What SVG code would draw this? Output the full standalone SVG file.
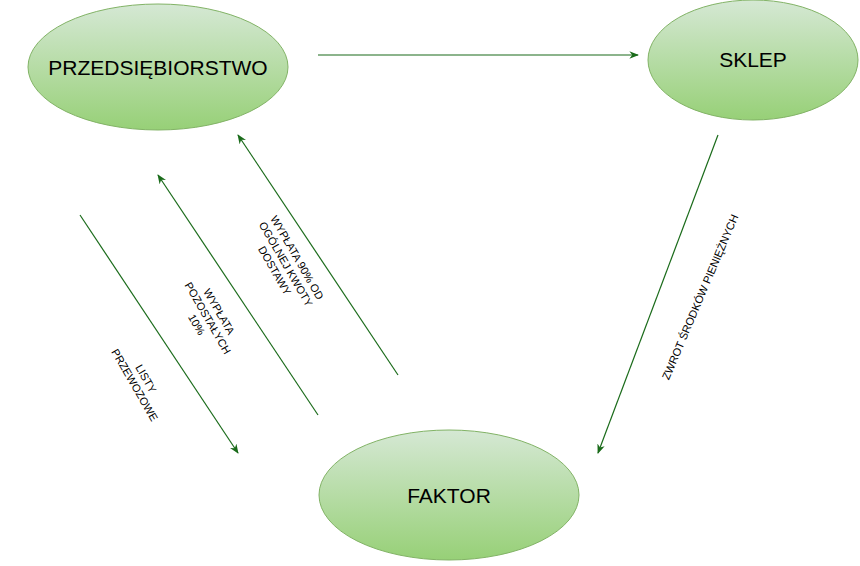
<svg xmlns="http://www.w3.org/2000/svg" width="860" height="566" viewBox="0 0 860 566">
<style>
.n{stroke:#82b366;stroke-width:1;fill:url(#g)}
.t{font-family:"Liberation Sans",Arial,sans-serif;fill:#000}
.big{font-size:21px}
.s{font-size:11px}
.c{stroke:#1a6b1a;stroke-width:1.2;fill:none;marker-end:url(#a)}
</style>
<defs>
<linearGradient id="g" x1="0" y1="0" x2="0" y2="1"><stop offset="0" stop-color="#d5e8d4"/><stop offset="1" stop-color="#97d077"/></linearGradient>
<marker id="a" viewBox="0 0 10 10" refX="9" refY="5" markerWidth="8" markerHeight="8" orient="auto"><path d="M0,1 L10,5 L0,9 L3,5 Z" fill="#1a6b1a"/></marker>
</defs>
<rect width="860" height="566" fill="#fff"/>
<g id="connectors">
<line class="c" x1="318" y1="55" x2="638" y2="55"/>
<line class="c" x1="718" y1="135" x2="598" y2="453"/>
<line class="c" x1="398" y1="375" x2="238" y2="135"/>
<line class="c" x1="318" y1="415" x2="158" y2="175"/>
<line class="c" x1="80" y1="215" x2="238" y2="453"/>
<g class="t s" text-anchor="middle">
<text transform="translate(140,382) rotate(60)"><tspan x="0" y="-3">LISTY</tspan><tspan x="0" y="10">PRZEWOZOWE</tspan></text>
<text transform="translate(208,318) rotate(60)"><tspan x="0" y="-9">WYPŁATA</tspan><tspan x="0" y="4">POZOSTAŁYCH</tspan><tspan x="0" y="17">10%</tspan></text>
<text transform="translate(286,264) rotate(60)"><tspan x="0" y="-9">WYPŁATA 90% OD</tspan><tspan x="0" y="4">OGÓLNEJ KWOTY</tspan><tspan x="0" y="17">DOSTAWY</tspan></text>
<text transform="translate(700,297) rotate(-67)" y="4">ZWROT ŚRODKÓW PIENIĘŻNYCH</text>
</g>
</g>
<g id="przedsiebiorstwo"><ellipse class="n" cx="158" cy="67" rx="130" ry="63"/><text class="t big" x="158" y="75" text-anchor="middle">PRZEDSIĘBIORSTWO</text></g>
<g id="sklep"><ellipse class="n" cx="753" cy="60" rx="105" ry="60"/><text class="t big" x="753" y="67" text-anchor="middle">SKLEP</text></g>
<g id="faktor"><ellipse class="n" cx="449" cy="495" rx="130" ry="65"/><text class="t big" x="449" y="503" text-anchor="middle">FAKTOR</text></g>
</svg>
